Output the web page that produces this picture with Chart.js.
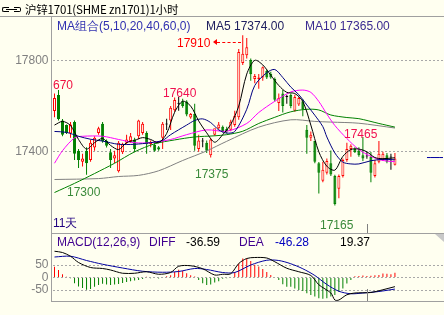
<!DOCTYPE html>
<html>
<head>
<meta charset="utf-8">
<title>沪锌1701 1小时</title>
<script src="https://cdn.jsdelivr.net/npm/chart.js@4.4.1/dist/chart.umd.min.js"></script>
<style>
  body { margin: 0; background: #FFFFF0; }
  #box { position: relative; width: 444px; height: 315px; overflow: hidden; background: #FFFFF0;
         font-family: "Liberation Sans", Arial, sans-serif; font-size: 12px; }
  #box canvas { position: absolute; left: 0; }
  .t { position: absolute; white-space: nowrap; line-height: 12px; }
  .ln { position: absolute; background: #A0A0A0; }
</style>
</head>
<body>
<div id="box">
  <canvas id="kline" width="445" height="234" style="top:0"></canvas>
  <canvas id="macd" width="445" height="81" style="top:234px"></canvas>

  <!-- frame -->
  <div class="ln" style="left:0;top:16px;width:444px;height:1px"></div>
  <div class="ln" style="left:51px;top:17px;width:1px;height:285px"></div>
  <div class="ln" style="left:52px;top:233px;width:392px;height:1px"></div>
  <div class="ln" style="left:52px;top:301px;width:392px;height:1px"></div>
  <div class="ln" style="left:367px;top:224px;width:1px;height:9px;background:#808080"></div>
  <div class="ln" style="left:367px;top:289px;width:1px;height:12px;background:#808080"></div>
  <div style="position:absolute;left:435px;top:234px;width:0;height:0;border-top:8px solid #C8C8C8;border-left:9px solid transparent"></div>

  <!-- title -->
  <div style="position:absolute;left:2px;top:7px;width:6px;height:3px;border:1px solid #000;border-right:none;border-radius:2px 0 0 2px"></div>
  <div style="position:absolute;left:14px;top:7px;width:6px;height:3px;border:1px solid #000;border-left:none;border-radius:0 2px 2px 0"></div>
  <div style="position:absolute;left:6px;top:9px;width:11px;height:1px;background:#000"></div>
  <div class="t" style="left:25px;top:3px;font-family:'Noto Sans CJK SC',sans-serif;font-size:11.5px;letter-spacing:-0.2px;color:#000">沪锌1701(SHME zn1701)1小时</div>

  <div class="t" style="left:57px;top:20px;color:#3030B0">MA组合(5,10,20,40,60,0)</div>
  <div class="t" style="left:206px;top:20px;color:#202060">MA5 17374.00</div>
  <div class="t" style="left:305px;top:20px;color:#3A2A90">MA10 17365.00</div>

  <!-- high / low marks -->
  <div class="t" style="left:177px;top:37px;color:#FF0000">17910</div>
  <div style="position:absolute;left:213px;top:39px;width:0;height:0;border-right:4px solid #FF0000;border-top:3px solid transparent;border-bottom:3px solid transparent"></div>
  <div style="position:absolute;left:217px;top:42px;width:24px;height:0;border-top:1px dashed #FF0000"></div>
  <div class="t" style="left:53px;top:79px;color:#F01040">670</div>
  <div class="t" style="left:163px;top:87px;color:#F01050">17640</div>
  <div class="t" style="left:344px;top:128px;color:#F01050">17465</div>
  <div class="t" style="left:67px;top:186px;color:#3A8A3A">17300</div>
  <div class="t" style="left:195px;top:168px;color:#3A8A3A">17375</div>
  <div class="t" style="left:320px;top:219px;color:#3A8A3A">17165</div>
  <div class="t" style="left:53px;top:217px;color:#200080">11天</div>

  <!-- macd header -->
  <div class="t" style="left:57px;top:236px;color:#400090">MACD(12,26,9)</div>
  <div class="t" style="left:149px;top:236px;color:#400090">DIFF</div>
  <div class="t" style="left:186px;top:236px;color:#000">-36.59</div>
  <div class="t" style="left:239px;top:236px;color:#400090">DEA</div>
  <div class="t" style="left:275px;top:236px;color:#0000C0">-46.28</div>
  <div class="t" style="left:340px;top:236px;color:#000">19.37</div>
</div>

<script>
// 1 hour bars, oldest first
const open = [
  17579,17649,17537,17517,17480,17530,17405,17357,17405,17364,
  17419,17482,17523,17447,17398,17371,17315,17398,17440,17447,
  17454,17468,17482,17482,17433,17430,17420,17461,17520,17537,
  17582,17610,17621,17620,17550,17565,17412,17445,17440,17385,
  17475,17503,17510,17500,17496,17517,17551,17788,17822,17801,
  17718,17718,17725,17753,17740,17718,17614,17655,17640,17648,
  17580,17607,17621,17496,17461,17447,17350,17274,17308,17350,
  17294,17239,17294,17364,17412,17412,17406,17385,17380,17378,
  17294,17357,17364,17385,17375,17343];
const high = [
  17655,17670,17544,17520,17530,17537,17412,17392,17420,17454,
  17468,17510,17530,17454,17412,17405,17447,17440,17475,17482,
  17461,17540,17530,17490,17450,17440,17425,17530,17545,17600,
  17638,17640,17632,17625,17570,17610,17475,17460,17450,17460,
  17490,17530,17515,17510,17540,17580,17850,17910,17898,17808,
  17740,17740,17773,17760,17750,17725,17655,17670,17650,17655,
  17650,17640,17630,17517,17489,17447,17355,17357,17371,17406,
  17300,17301,17371,17440,17433,17420,17420,17465,17400,17399,
  17364,17447,17400,17395,17392,17395];
const low = [
  17551,17537,17468,17478,17461,17364,17329,17336,17300,17357,
  17405,17475,17440,17419,17329,17350,17310,17390,17433,17440,
  17398,17455,17475,17392,17420,17400,17405,17412,17495,17495,
  17575,17580,17593,17555,17545,17405,17400,17420,17395,17375,
  17470,17498,17485,17480,17490,17510,17540,17780,17808,17711,
  17700,17676,17711,17718,17720,17620,17579,17572,17610,17590,
  17575,17600,17555,17392,17447,17350,17218,17267,17301,17294,
  17165,17197,17288,17357,17378,17395,17378,17360,17370,17267,
  17288,17350,17360,17350,17322,17340];
const close = [
  17635,17544,17475,17482,17520,17392,17364,17371,17350,17440,
  17461,17503,17447,17426,17364,17385,17440,17433,17454,17468,
  17412,17537,17523,17433,17440,17405,17410,17523,17520,17593,
  17627,17610,17600,17563,17565,17426,17450,17445,17405,17454,
  17503,17520,17490,17490,17531,17558,17836,17829,17857,17739,
  17732,17725,17770,17725,17725,17628,17635,17600,17640,17600,
  17640,17635,17586,17461,17475,17357,17308,17322,17360,17301,
  17172,17294,17364,17412,17426,17399,17385,17371,17380,17308,
  17350,17392,17392,17357,17375,17371];

// moving averages, read at a few bars each
const ma5Idx = [0,2,4,6,8,10,12,14,16,18,20,22,24,26,28,30,32,34,36,38,40,42,44,46,48,50,52,54,56,58,60,62,64,66,68,70,72,74,76,78,80,82,85];
const ma5Val = [17517,17533,17515,17454,17412,17440,17458,17428,17410,17440,17450,17462,17454,17440,17480,17573,17621,17600,17535,17483,17442,17475,17520,17600,17740,17800,17780,17735,17690,17660,17655,17620,17517,17400,17337,17320,17380,17410,17412,17400,17375,17370,17374];
const ma10Idx = [0,3,6,9,12,16,20,24,27,29,33,35,37,39,41,43,45,48,50,53,55,57,59,61,63,65,67,68,70,72,74,76,79,82,85];
const ma10Val = [17489,17485,17468,17455,17447,17433,17433,17440,17450,17475,17517,17537,17544,17528,17496,17482,17489,17586,17690,17746,17760,17725,17683,17650,17605,17560,17510,17465,17395,17355,17347,17347,17361,17367,17365];
const ma20Idx = [0,2,5,7,12,16,20,24,29,33,38,43,48,51,55,59,62,64,66,68,70,73,76,79,82,85];
const ma20Val = [17350,17405,17461,17468,17468,17454,17440,17440,17454,17475,17496,17490,17524,17572,17621,17662,17670,17660,17620,17565,17515,17458,17410,17380,17362,17357];
const ma40Idx = [0,5,10,15,20,25,30,35,40,43,47,51,55,59,63,66,69,73,76,81,85];
const ma40Val = [17222,17262,17305,17350,17400,17435,17452,17465,17470,17475,17490,17524,17551,17575,17586,17583,17561,17550,17545,17524,17508];
const ma60Idx = [0,11,16,21,26,32,38,43,51,59,65,69,76,85];
const ma60Val = [17279,17283,17292,17297,17317,17362,17404,17446,17508,17540,17533,17530,17525,17504];
const markIdx = [93,97];
const markVal = [17375,17375];

// MACD
const hist = [
  43,30,13,3,-3,-23,-36,-42,-49,-46,
  -37,-30,-25,-28,-30,-28,-26,-22,-18,-15,
  -12,-10,-6,3,-3,-2,-4,2,5,9,
  22,31,27,17,9,4,-10,-23,-30,-28,
  -20,-15,-5,-3,2,22,56,76,76,66,
  51,44,34,22,10,2,-10,-27,-37,-37,
  -44,-50,-54,-63,-70,-76,-83,-85,-83,-76,
  -70,-57,-44,-24,-10,5,6,8,6,7,
  9,10,16,15,13,19.37];
const diffIdx = [0,2,4,6,9,12,14,17,20,23,26,29,31,34,37,40,42,44,46,48,50,53,55,58,61,64,66,69,70,71,73,75,79,82,85];
const diffVal = [105,100,85,60,40,36,30,17,17,23,13,20,45,47,35,10,13,15,56,76,80,78,63,37,23,8,-29,-62,-90,-90,-69,-62,-60,-49,-36.59];
const deaIdx = [0,4,8,12,17,22,27,31,35,38,42,45,49,53,56,59,62,65,68,71,74,77,81,85];
const deaVal = [82,85,68,53,38,25,21,24,36,32,20,20,50,69,68,55,35,8,-28,-55,-65,-62,-56,-46.28];

const priceTicks = [17400, 17800];
const macdTicks = [-50, 0, 50];

const SLOTS = 98;
const BG = '#FFFFF0';
const UP = '#FF0000', DOWN = '#008000', FLAT = '#000000';

const slots = [];
for (let i = 0; i < SLOTS; i++) slots.push(i);

function sparse(idx, val) {
  const a = new Array(SLOTS).fill(null);
  idx.forEach(function(k, j) { a[k] = val[j]; });
  return a;
}
function candleColor(i) {
  if (close[i] > open[i]) return UP;
  if (close[i] < open[i]) return DOWN;
  return FLAT;
}
function maLine(label, idx, val, color) {
  return {
    type: 'line', label: label, data: sparse(idx, val),
    borderColor: color, borderWidth: 1, pointRadius: 0,
    spanGaps: true, tension: 0.3, order: 0
  };
}
function fixWidth(scale) { scale.width = 52.5; }
function plainTick(v) { return String(v); }

const gridStyle = { color: '#A8A8A8', drawTicks: false, lineWidth: 1 };
const tickFont = { family: 'Liberation Sans', size: 12 };

new Chart(document.getElementById('kline'), {
  type: 'bar',
  data: {
    labels: slots,
    datasets: [
      maLine('MA5', ma5Idx, ma5Val, '#000000'),
      maLine('MA10', ma10Idx, ma10Val, '#000080'),
      maLine('MA20', ma20Idx, ma20Val, '#FF00FF'),
      maLine('MA40', ma40Idx, ma40Val, '#008000'),
      maLine('MA60', ma60Idx, ma60Val, '#808080'),
      maLine('mark', markIdx, markVal, '#0000A0'),
      {
        label: 'body',
        data: open.map(function(o, i) { return [o, close[i]]; }),
        backgroundColor: open.map(function(o, i) { return close[i] > o ? BG : candleColor(i); }),
        borderColor: open.map(function(o, i) { return candleColor(i); }),
        borderWidth: 1, borderSkipped: false, minBarLength: 1,
        barThickness: 3, inflateAmount: 0, grouped: false, order: 1
      },
      {
        label: 'wick',
        data: low.map(function(l, i) { return [l, high[i]]; }),
        backgroundColor: low.map(function(l, i) { return candleColor(i); }),
        borderWidth: 0, barThickness: 1, inflateAmount: 0, grouped: false, order: 2
      }
    ]
  },
  options: {
    responsive: false, animation: false,
    layout: { padding: { top: 17, bottom: 1, left: 0, right: 0 } },
    plugins: { legend: { display: false }, tooltip: { enabled: false } },
    scales: {
      x: { display: false },
      y: {
        position: 'left', min: 17089.58, max: 17989.58,
        afterFit: fixWidth,
        afterBuildTicks: function(axis) { axis.ticks = priceTicks.map(function(v) { return { value: v }; }); },
        ticks: { color: '#808080', font: tickFont, padding: 4, callback: plainTick },
        grid: gridStyle,
        border: { display: false, dash: [2, 2] }
      }
    }
  }
});

new Chart(document.getElementById('macd'), {
  type: 'bar',
  data: {
    labels: slots,
    datasets: [
      maLine('DIFF', diffIdx, diffVal, '#000000'),
      maLine('DEA', deaIdx, deaVal, '#0000A0'),
      {
        label: 'MACD',
        data: hist,
        backgroundColor: hist.map(function(v) { return v >= 0 ? UP : DOWN; }),
        borderWidth: 0, barThickness: 1, inflateAmount: 0, order: 1
      }
    ]
  },
  options: {
    responsive: false, animation: false,
    layout: { padding: { top: 14, bottom: 14, left: 0, right: 0 } },
    plugins: { legend: { display: false }, tooltip: { enabled: false } },
    scales: {
      x: { display: false },
      y: {
        position: 'left', min: -94, max: 118,
        afterFit: fixWidth,
        afterBuildTicks: function(axis) { axis.ticks = macdTicks.map(function(v) { return { value: v }; }); },
        ticks: { color: '#808080', font: tickFont, padding: 4, callback: plainTick },
        grid: gridStyle,
        border: { display: false, dash: [2, 2] }
      }
    }
  }
});
</script>
</body>
</html>
